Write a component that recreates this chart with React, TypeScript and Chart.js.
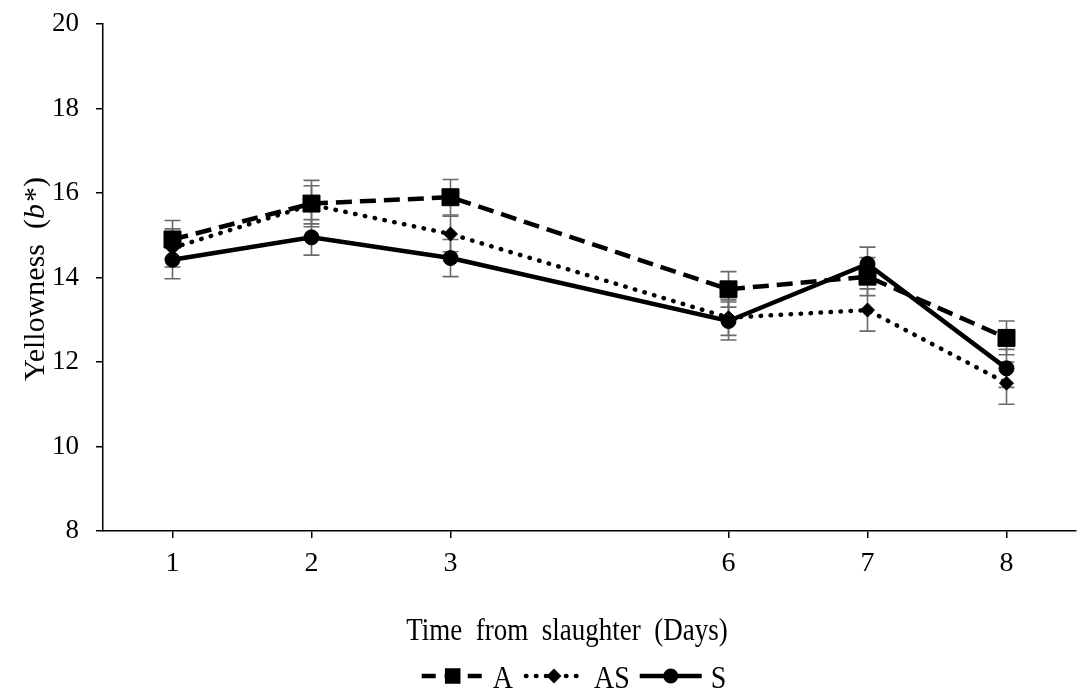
import { useEffect, useRef } from "react";
import { Chart, registerables } from "chart.js";

Chart.register(...registerables);

// ---- data ----
const dayLabels = ["1", "2", "3", "", "6", "7", "8"];
const valuesA = [14.9, 15.75, 15.9, null, 13.72, 14.02, 12.57];
const errorsA = [0.45, 0.55, 0.42, null, 0.42, 0.45, 0.4];
const valuesAS = [14.7, 15.72, 15.03, null, 13.05, 13.23, 11.5];
const errorsAS = [0.45, 0.45, 0.42, null, 0.42, 0.5, 0.5];
const valuesS = [14.42, 14.95, 14.46, null, 12.97, 14.32, 11.85];
const errorsS = [0.45, 0.42, 0.44, null, 0.45, 0.4, 0.45];
const seriesNames = ["A", "AS", "S"];
const yMin = 8;
const yMax = 20;
const yStep = 2;
const xTitle = "Time  from  slaughter  (Days)";
const yTitleParts = ["Yellowness  (", "b", "*)"];

const FONT = "'Liberation Serif', 'Times New Roman', serif";

type Sty = { dash: number[]; cap: CanvasLineCap; point: string; r: number };
const styles: Sty[] = [
  { dash: [16, 8], cap: "butt", point: "rect", r: 12 },
  { dash: [0.5, 9.5], cap: "round", point: "rectRot", r: 7 },
  { dash: [], cap: "butt", point: "circle", r: 7.5 },
];

function drawMarker(ctx: CanvasRenderingContext2D, kind: string, x: number, y: number, r: number) {
  ctx.beginPath();
  if (kind === "rect") {
    const s = r * Math.SQRT1_2;
    ctx.rect(x - s, y - s, 2 * s, 2 * s);
  } else if (kind === "rectRot") {
    ctx.moveTo(x - r, y);
    ctx.lineTo(x, y - r);
    ctx.lineTo(x + r, y);
    ctx.lineTo(x, y + r);
    ctx.closePath();
  } else {
    ctx.arc(x, y, r, 0, Math.PI * 2);
  }
  ctx.fill();
}

const errorBarPlugin = {
  id: "errorBars",
  beforeDatasetsDraw(chart: any) {
    const ctx = chart.ctx as CanvasRenderingContext2D;
    const yScale = chart.scales.y;
    const errs = [errorsA, errorsAS, errorsS];
    ctx.save();
    ctx.strokeStyle = "#6a6a6a";
    ctx.lineWidth = 1.6;
    chart.data.datasets.forEach((ds: any, i: number) => {
      const meta = chart.getDatasetMeta(i);
      ds.data.forEach((v: number | null, j: number) => {
        const e = errs[i][j];
        if (v == null || e == null) return;
        const x = meta.data[j].x;
        const yt = yScale.getPixelForValue(v + e);
        const yb = yScale.getPixelForValue(v - e);
        ctx.beginPath();
        ctx.moveTo(x, yt);
        ctx.lineTo(x, yb);
        ctx.moveTo(x - 8, yt);
        ctx.lineTo(x + 8, yt);
        ctx.moveTo(x - 8, yb);
        ctx.lineTo(x + 8, yb);
        ctx.stroke();
      });
    });
    ctx.restore();
  },
};

const textPlugin = {
  id: "texts",
  afterDraw(chart: any) {
    const ctx = chart.ctx as CanvasRenderingContext2D;
    ctx.save();
    ctx.fillStyle = "#000";
    // y title (rotated, mixed italic)
    ctx.font = `30px ${FONT}`;
    const w0 = ctx.measureText(yTitleParts[0]).width;
    ctx.font = `italic 30px ${FONT}`;
    const w1 = ctx.measureText(yTitleParts[1]).width;
    ctx.font = `30px ${FONT}`;
    const w2 = ctx.measureText(yTitleParts[2]).width;
    const total = w0 + w1 + w2 + 2;
    ctx.translate(44, 279);
    ctx.rotate(-Math.PI / 2);
    ctx.textBaseline = "alphabetic";
    ctx.textAlign = "left";
    let px = -total / 2;
    ctx.font = `30px ${FONT}`;
    ctx.fillText(yTitleParts[0], px, 0);
    px += w0;
    ctx.font = `italic 30px ${FONT}`;
    ctx.fillText(yTitleParts[1], px, 0);
    px += w1 + 2;
    ctx.font = `30px ${FONT}`;
    ctx.fillText(yTitleParts[2], px, 0);
    ctx.restore();

    // x title
    ctx.save();
    ctx.fillStyle = "#000";
    ctx.font = `27px ${FONT}`;
    ctx.textAlign = "center";
    ctx.textBaseline = "alphabetic";
    ctx.translate(567, 640);
    ctx.scale(1, 1.15);
    ctx.fillText(xTitle, 0, 0);
    ctx.restore();

    // legend
    ctx.save();
    ctx.font = `28px ${FONT}`;
    const sample = 62;
    const gapA = 9;
    const gapB = 10;
    const widths = seriesNames.map((n) => ctx.measureText(n).width);
    const totalW = widths.reduce((a, b) => a + b, 0) + 3 * (sample + gapA) + 2 * gapB;
    let lx = 574 - totalW / 2;
    const ly = 676;
    seriesNames.forEach((name, i) => {
      const st = styles[i];
      ctx.strokeStyle = "#000";
      ctx.fillStyle = "#000";
      ctx.lineWidth = 4.5;
      ctx.lineCap = st.cap;
      ctx.setLineDash(st.dash.length ? (i === 0 ? [14, 9] : st.dash) : []);
      ctx.beginPath();
      ctx.moveTo(lx + (i === 1 ? 3 : 0), ly);
      ctx.lineTo(lx + sample, ly);
      ctx.stroke();
      ctx.setLineDash([]);
      drawMarker(ctx, st.point, lx + sample / 2, ly, i === 0 ? 11 : i === 1 ? 7.5 : 7.5);
      lx += sample + gapA;
      ctx.textAlign = "left";
      ctx.textBaseline = "alphabetic";
      ctx.save();
      ctx.translate(lx, ly + 12);
      ctx.scale(1, 1.15);
      ctx.fillText(name, 0, 0);
      ctx.restore();
      lx += widths[i] + gapB;
    });
    ctx.restore();
  },
};

export default function App() {
  const ref = useRef<HTMLCanvasElement | null>(null);

  useEffect(() => {
    document.body.style.margin = "0";
    if (!ref.current) return;
    const mk = (label: string, data: (number | null)[], i: number, order: number) => ({
      label,
      data,
      borderColor: "#000",
      backgroundColor: "#000",
      borderWidth: 4.5,
      borderDash: styles[i].dash,
      borderCapStyle: styles[i].cap,
      pointStyle: styles[i].point,
      pointRadius: styles[i].r,
      pointBackgroundColor: "#000",
      pointBorderColor: "#000",
      pointBorderWidth: 1,
      spanGaps: true,
      tension: 0,
      order,
    });
    const chart = new Chart(ref.current, {
      type: "line",
      data: {
        labels: dayLabels,
        datasets: [
          mk(seriesNames[0], valuesA, 0, 3),
          mk(seriesNames[1], valuesAS, 1, 2),
          mk(seriesNames[2], valuesS, 2, 1),
        ] as any,
      },
      options: {
        animation: false,
        responsive: false,
        devicePixelRatio: 1,
        layout: { autoPadding: false, padding: { top: 24, right: 3, left: 0, bottom: 0 } },
        plugins: { legend: { display: false }, tooltip: { enabled: false } },
        scales: {
          x: {
            type: "category",
            offset: true,
            afterFit: (s: any) => {
              s.height = 162;
              s.paddingLeft = 0;
              s.paddingRight = 0;
            },
            grid: {
              offset: false,
              drawOnChartArea: false,
              drawTicks: true,
              tickLength: 7,
              lineWidth: 1.5,
              color: (c: any) => (c.tick && c.tick.label !== "" ? "#000" : "rgba(0,0,0,0)"),
            },
            border: { color: "#000", width: 1.5 },
            ticks: {
              autoSkip: false,
              maxRotation: 0,
              color: "#000",
              padding: 9,
              font: { family: FONT, size: 28 },
            },
          },
          y: {
            min: yMin,
            max: yMax,
            afterFit: (s: any) => {
              s.width = 103;
              s.paddingTop = 0;
              s.paddingBottom = 0;
            },
            grid: { drawOnChartArea: false, drawTicks: true, tickLength: 7, lineWidth: 1.5, color: "#000" },
            border: { color: "#000", width: 1.5 },
            ticks: {
              stepSize: yStep,
              color: "#000",
              padding: 17,
              font: { family: FONT, size: 27 },
            },
          },
        },
      } as any,
      plugins: [errorBarPlugin, textPlugin],
    });
    return () => chart.destroy();
  }, []);

  return (
    <div style={{ width: 1079, height: 693, background: "#fff" }}>
      <canvas ref={ref} width={1079} height={693} style={{ display: "block" }} />
    </div>
  );
}
